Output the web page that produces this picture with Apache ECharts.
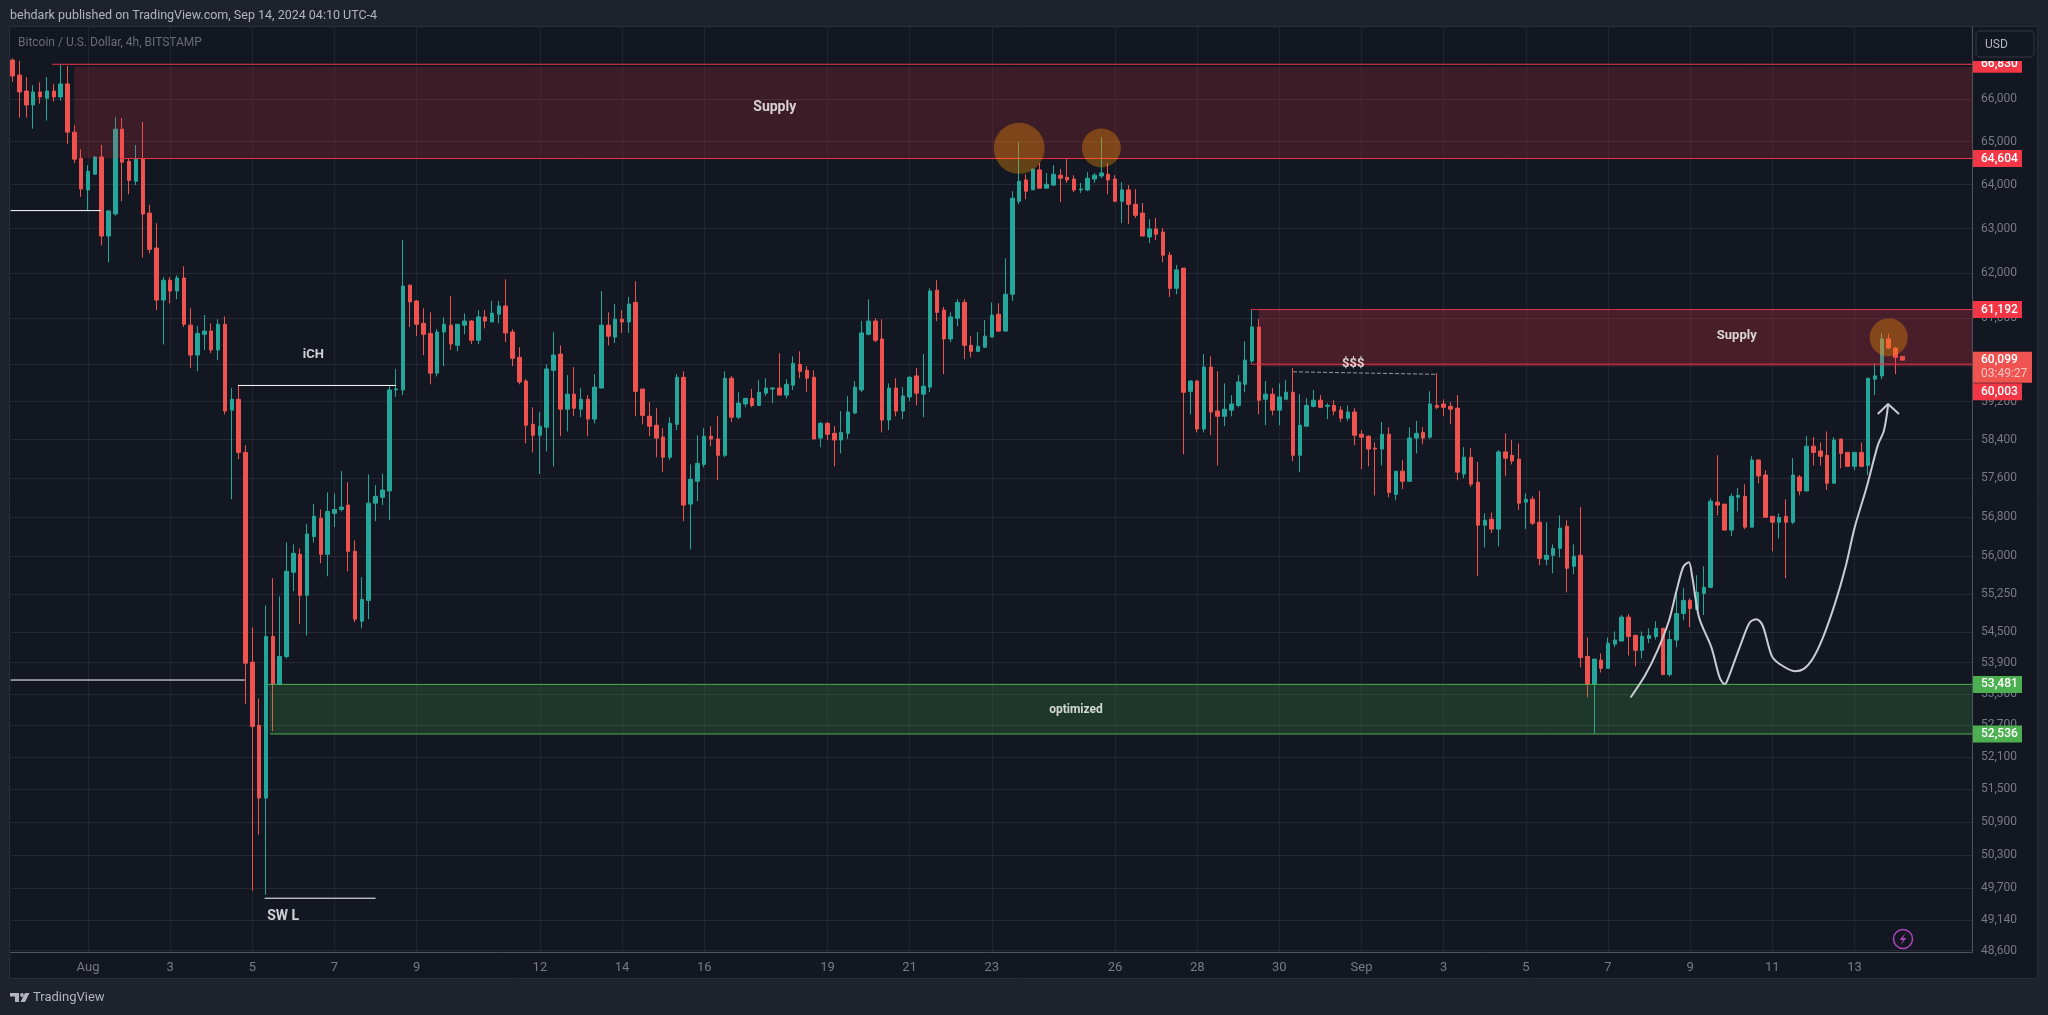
<!DOCTYPE html>
<html>
<head>
<meta charset="utf-8">
<style>html,body{margin:0;padding:0;background:#1e222d}#main{width:2048px;height:1015px}</style>
<script src="https://cdn.jsdelivr.net/npm/echarts@6/dist/echarts.min.js"></script>
</head>
<body>
<div id="main"></div>
<script>
// 4h candles
var opens = [
66930,66570,66190,65860,66170,66020,66190,66050,66360,65220,
64610,63880,64240,64640,62830,63330,65290,64540,64080,64600,
63350,62560,61400,61840,61600,61890,60850,60200,60650,60720,
60310,60870,59020,59250,58130,53910,52700,51340,54410,53480,
54020,55680,56040,55220,56400,56770,56040,56870,56950,57040,
56100,54710,55120,57080,57200,57330,59450,59450,61730,61380,
60890,60670,59810,60700,60850,60410,60850,60940,60520,61030,
60920,61090,61270,60700,60150,59640,58720,58490,58660,59870,
60220,59040,59360,59040,59250,58830,59490,60850,60590,60980,
60920,61350,59470,58890,58700,58450,58030,58720,59720,57060,
57530,57880,58470,58410,58070,59700,58870,59150,59270,59120,
59380,59470,59490,59340,59550,60000,59870,59720,58430,58740,
58530,58390,58530,58960,59450,60650,60940,60550,58810,59490,
59000,59300,59750,59360,59510,61620,61180,60550,61000,61350,
60410,60280,60370,60590,61090,60720,61530,63620,64110,63880,
64340,63920,63990,64220,64170,64130,63880,63880,64130,64200,
64240,64130,63620,63880,63550,63350,62810,62990,62920,62400,
61660,62110,59420,59640,58620,59940,59000,58890,59020,59120,
59570,60070,60810,59250,59360,59020,59250,59400,58070,58680,
59100,59230,59100,59120,59020,58850,58980,58510,58470,58220,
58200,58510,57260,57740,57530,58430,58550,58450,59120,59150,
59100,59060,57680,58030,57510,56630,56750,56550,58140,58070,
57990,57100,57160,56690,55940,56020,56160,56610,55800,56020,
54020,53480,53950,53790,54260,54320,54790,54430,54140,54370,
54410,54570,53670,54340,54860,55120,54940,55260,55380,57100,
57060,56530,57200,57220,56590,57970,57660,56810,56690,56810,
56690,57620,57330,58260,58160,58070,57490,58410,58130,57840,
58130,57860,59680,59750,60550,60350,60170];
var closes = [
66550,66170,65860,66170,66050,66190,66050,66360,65220,64590,
63900,64310,64640,62830,63400,65290,64520,64100,64590,63330,
62530,61400,61840,61600,61890,60870,60200,60670,60720,60310,
60870,59000,59250,58130,53890,52680,51340,54410,53480,54020,
55700,56060,55220,56450,56810,56040,56910,56950,57000,56100,
54750,55140,57080,57220,57350,59450,59470,61710,61360,60870,
60650,59810,60700,60870,60440,60870,60940,60520,61030,60940,
61110,61270,60680,60130,59620,58700,58490,58680,59900,60200,
59040,59360,59060,59250,58830,59510,60850,60610,60980,60920,
61310,59420,58910,58680,58430,58030,58740,59720,57040,57570,
57900,58470,58410,58070,59700,58870,59170,59270,59120,59400,
59490,59490,59340,59570,60020,59850,59700,58410,58740,58510,
58390,58550,58980,59510,60680,60940,60520,58810,59490,59000,
59320,59720,59380,59530,61600,61130,60550,61030,61350,60410,
60280,60390,60610,61070,60720,61530,63690,64080,63850,64360,
63920,64010,64240,64150,64110,63880,63900,64150,64220,64270,
64110,63620,63880,63550,63300,62830,62990,62870,62400,61660,
62070,59400,59640,58620,59940,58980,58890,59040,59150,59620,
60090,60810,59230,59360,59020,59300,59400,58070,58700,59120,
59230,59080,59120,59000,58850,58980,58490,58450,58200,58200,
58510,57300,57740,57530,58430,58530,58430,59150,59080,59080,
59040,57720,58030,57470,56630,56730,56550,58140,58010,57950,
57080,57160,56670,55960,56020,56160,56570,55760,56000,54000,
53480,53970,53790,54280,54340,54790,54410,54140,54410,54430,
54570,53670,54350,54860,55120,54960,55280,55380,57120,57040,
56530,57220,57240,56590,57970,57640,56790,56690,56790,56690,
57660,57330,58260,58130,58050,57490,58390,58110,57840,58130,
57840,59700,59750,60550,60350,60150,60090];
var lows = [
66410,65560,65560,65300,65890,65490,65940,65960,64940,64500,
63720,63400,64240,62620,62240,63290,63620,63780,63990,62350,
62440,61180,60430,61330,61420,60810,59920,59850,60310,60240,
60090,58930,57160,57990,53100,49660,50670,49590,52590,53480,
53980,55300,54650,54430,56280,55860,55600,56590,56910,55700,
54690,54570,54750,56710,57040,56730,59300,59340,60810,60610,
60200,59570,59740,59960,60310,60280,60650,60440,60440,60780,
60920,60890,60480,59960,59570,58320,58130,57680,58150,57840,
58470,58570,58890,58870,58470,58740,59490,60410,60460,60680,
60680,58890,58720,58470,58030,57720,57970,58600,56710,56140,
57120,57820,58260,57550,58030,58770,58830,59080,59080,59120,
59320,59170,59340,59270,59450,59700,59400,58410,58240,58390,
57840,58110,58410,58930,59400,60630,60480,58550,58600,58890,
58830,59210,59120,58870,59400,60940,59790,60480,60830,60110,
60150,60280,60350,60590,60700,60720,61380,63550,63670,63880,
63920,63920,63970,63600,64040,63830,63810,63850,64040,64150,
63780,63600,63120,63100,63240,62830,62670,62740,62240,61470,
61530,58090,58930,58550,58550,58490,57860,58680,58890,59080,
59400,60020,58930,58700,58910,58700,59250,57950,57720,58680,
59080,59060,58830,58910,58770,58790,58280,57780,57840,57240,
57860,57200,57140,57370,57530,58110,58300,58410,59040,58890,
58720,57550,57590,57410,55600,56180,56470,56200,57640,57880,
56940,56550,56630,55820,55820,55660,55980,55280,55640,53810,
53230,52550,53710,53790,54200,54320,54040,53830,53980,54280,
54350,53670,53630,54200,54730,54590,54940,54830,55360,56830,
56530,56410,56910,56550,56590,57490,56790,56100,56360,55560,
56650,57240,57330,57860,57860,57350,57490,57800,57840,57760,
57820,57660,59340,59680,60330,59790,60090];
var highs = [
66970,66910,66520,66330,66400,66520,66360,66810,66790,65380,
64820,64450,64660,64920,63400,65570,65550,64610,64920,65460,
63540,63120,61910,61910,61950,62150,61220,60830,61070,60890,
60980,61040,59490,59550,58280,54590,53210,55020,55560,55200,
56280,56240,56160,56650,57060,56950,57300,57280,57740,57510,
56320,55580,57670,57450,57690,59530,59900,62740,61750,61400,
61220,61130,60760,61020,61490,60870,61110,60960,61180,61180,
61380,61380,61860,60760,60370,59680,59080,58980,60000,60700,
60410,59770,59940,59490,59340,59790,61600,61130,61310,61180,
61470,61820,59470,59190,59060,58640,58870,59790,59850,57880,
58490,58640,58680,58890,59850,59750,59400,59270,59470,59660,
59700,59510,60240,59680,60170,60280,59960,59870,58770,58770,
58680,59000,59320,59640,60940,61420,61000,60980,59590,59700,
59510,59750,59920,60220,61660,61840,61250,61130,61420,61420,
60610,60700,60960,61350,61330,62330,63850,64990,64240,64360,
64500,64270,64450,64360,64590,64220,64040,64290,64270,65100,
64500,64220,64060,63990,63900,63580,63210,63240,63010,62470,
62180,62110,59660,59660,60220,60170,59850,59590,59340,59770,
60500,61180,60980,59640,59490,59590,59660,59920,59360,59270,
59450,59340,59170,59230,59100,59120,59060,58600,58490,58340,
58770,58660,57740,57970,58660,58790,58660,59420,59810,59250,
59190,59340,58240,58220,57930,56870,56890,58180,58530,58390,
58320,57280,57220,57330,56690,56240,56830,56730,56240,57000,
54390,53970,54080,54390,54510,54830,54850,54450,54510,54570,
54710,54570,54530,55360,55360,55160,55620,55800,57180,58070,
57060,57280,57390,57470,58050,57990,57760,56810,56870,57160,
58010,57660,58470,58450,58340,58570,58450,58410,58130,58130,
58340,59700,60020,60680,60660,60370,60170];

// axis ticks
var priceTicks = [66000,65000,64000,63000,62000,61000,60000,59200,58400,57600,56800,56000,55250,54500,53900,53300,52700,52100,51500,50900,50300,49700,49140,48600];
var dateTicks = [11,23,35,47,59,77,89,101,119,131,143,161,173,185,197,209,221,233,245,257,269];
var dateLabels = ['Aug','3','5','7','9','12','14','16','19','21','23','26','28','30','Sep','3','5','7','9','11','13'];

// drawings, in bar index and price
var supplyTopZone = [[9, 66763], [286.2, 64604]];
var supplyLowZone = [[182, 61192], [286.2, 59950]];
var demandZone = [[37.5, 53481], [286.2, 52536]];
var supplyTopLines = [[[5.8, 66830], [286.2, 66830]], [[15.8, 64604], [286.2, 64604]]];
var supplyLowLines = [[[180.8, 61192], [286.2, 61192]], [[180.8, 60003], [286.2, 60003]]];
var demandLines = [[[37.2, 53481], [286.2, 53481]], [[37.6, 52536], [286.2, 52536]]];
var whiteLines = [[[-0.3, 63407], [12.9, 63407]], [[32.9, 59546], [56, 59546]], [[-0.3, 53565], [33.9, 53565]], [[36.8, 49526], [53, 49526]]];
var dashedLine = [[187, 59838], [208, 59785]];
var sketchCurve = [[236.3,53230],[238.4,53650],[240.2,54130],[241.9,54717],[243,55310],[244,55790],[244.8,55880],[245.3,55590],[246.3,54780],[248.1,54196],[249.3,53615],[250,53490],[250.4,53550],[252.4,54262],[253.7,54685],[254.7,54750],[255.6,54620],[256.9,54035],[258,53880],[260.3,53735],[261.6,53780],[262.9,53975],[264.4,54390],[266.2,55080],[267.7,55790],[269,56570],[270.8,57422],[272.4,58277],[273.3,58590],[273.9,59116]];
var sketchArrow = [[272.4,58940],[273.9,59150],[275.5,58940]];
var circleMarks = [[147,64841,51],[159,64850,39],[274,60583,38]];
var noteTexts = [[111.3,65806,'Supply',14],[251.8,60620,'Supply',13],[43.9,60210,'iCH',13],[39.5,49210,'SW L',14],[195.8,60010,'$$$',13],[155.3,53000,'optimized',12]];
var priceTags = [[66830,'#f23645'],[64604,'#f23645'],[61192,'#f23645'],[53481,'#4caf50'],[52536,'#4caf50']];
var lastPrice = 60099;
var lastTimer = '03:49:27';
var zoneLowPrice = 60003;

var candleData = [];
for (var i = 0; i < opens.length; i++) {
    candleData.push([i, opens[i], closes[i], lows[i], highs[i]]);
}

var fontName = 'Roboto';

function segSeries(data, color, width, type, z) {
    return {
        type: 'line', data: data, showSymbol: false, silent: true, z: z,
        lineStyle: { color: color, width: width, type: type || 'solid' }
    };
}

function zoneSeries(zone, fill) {
    return {
        type: 'line', data: [], silent: true, z: 3,
        markArea: {
            silent: true, z: 3,
            itemStyle: { color: fill },
            data: [[{ coord: zone[0] }, { coord: zone[1] }]]
        }
    };
}

var series = [{
    type: 'candlestick',
    z: 2,
    barWidth: 4,
    encode: { x: 0, y: [1, 2, 3, 4] },
    data: candleData,
    itemStyle: {
        color: '#26a69a', color0: '#ef5350',
        borderColor: '#26a69a', borderColor0: '#ef5350',
        borderColorDoji: '#26a69a', borderWidth: 1
    }
}];
series.push(zoneSeries(supplyTopZone, 'rgba(242,54,69,0.18)'));
series.push(zoneSeries(supplyLowZone, 'rgba(242,54,69,0.235)'));
series.push(zoneSeries(demandZone, 'rgba(76,175,80,0.21)'));
supplyTopLines.forEach(function (l) { series.push(segSeries(l, '#f23645', 1, null, 4)); });
supplyLowLines.forEach(function (l) { series.push(segSeries(l, '#e0344a', 1, null, 4)); });
demandLines.forEach(function (l) { series.push(segSeries(l, '#4caf50', 1, null, 4)); });
whiteLines.forEach(function (l) { series.push(segSeries(l, '#ffffff', 1, null, 4)); });
series.push(segSeries(dashedLine, '#9598a1', 1, 'dashed', 4));
var curve = segSeries(sketchCurve, '#c9ccd4', 2, null, 5);
curve.smooth = 0.3;
series.push(curve);
series.push(segSeries(sketchArrow, '#c9ccd4', 2, null, 5));
series.push({
    type: 'scatter', silent: true, z: 6,
    data: circleMarks.map(function (c) { return { value: [c[0], c[1]], symbolSize: c[2] }; }),
    itemStyle: { color: 'rgba(255,152,0,0.42)' }
});
series.push({
    type: 'scatter', silent: true, z: 7, symbolSize: 1,
    itemStyle: { color: 'transparent' },
    data: noteTexts.map(function (n) {
        return {
            value: [n[0], n[1]],
            label: {
                show: true, position: 'inside', formatter: n[2], color: '#ffffff',
                fontFamily: fontName, fontWeight: 'bold', fontSize: n[3]
            }
        };
    })
});

var chart = echarts.init(document.getElementById('main'));
var option = {
    animation: false,
    backgroundColor: '#1e222d',
    grid: { left: 10.5, right: 76, top: 27, bottom: 63 },
    xAxis: {
        type: 'value', min: -0.317, max: 286.16,
        axisLine: { show: true, onZero: false, lineStyle: { color: '#50535e' } },
        axisTick: { show: false, customValues: dateTicks },
        axisLabel: {
            customValues: dateTicks, color: '#787b86', fontFamily: fontName, fontSize: 13, margin: 9,
            formatter: function (v) { return dateLabels[dateTicks.indexOf(v)]; }
        },
        splitLine: { show: true, lineStyle: { color: '#20242e' } }
    },
    yAxis: {
        type: 'log', position: 'right', min: 48578, max: 67731,
        axisLine: { show: true, onZero: false, lineStyle: { color: '#50535e' } },
        axisTick: { show: false, customValues: priceTicks },
        axisLabel: {
            customValues: priceTicks, color: '#787b86', fontFamily: fontName, fontSize: 12, margin: 9,
            padding: [0, 0, 2, 0],
            formatter: function (v) { return Math.round(v).toLocaleString('en-US'); }
        },
        splitLine: { show: true, lineStyle: { color: '#252934' } }
    },
    series: series
};
chart.setOption(option);

// frame, header and price tags sit on top of the scales
function tag(y, h, w, fill, text, z) {
    return [
        { type: 'rect', silent: true, z: z, shape: { x: 1973, y: y - h / 2, width: w, height: h }, style: { fill: fill } },
        { type: 'text', silent: true, z: z + 1, style: { x: 1981, y: y, text: text, fill: '#ffffff', font: '500 12px ' + fontName, textVerticalAlign: 'middle' } }
    ];
}

var els = [
    { type: 'rect', silent: true, z: -10, shape: { x: 9.5, y: 26.5, width: 2028, height: 952 }, style: { fill: '#131722', stroke: '#2a2e39', lineWidth: 1 } },
    { type: 'text', silent: true, z: 20, style: { x: 10, y: 15.5, text: 'behdark published on TradingView.com, Sep 14, 2024 04:10 UTC-4', fill: '#b2b5be', font: '12.5px ' + fontName, textVerticalAlign: 'middle' } },
    { type: 'text', silent: true, z: 20, style: { x: 18, y: 42.5, text: 'Bitcoin / U.S. Dollar, 4h, BITSTAMP', fill: '#6a6d78', font: '12px ' + fontName, textVerticalAlign: 'middle' } },
    { type: 'text', silent: true, z: 20, style: { x: 33, y: 998, text: 'TradingView', fill: '#b2b5be', font: '13px ' + fontName, textVerticalAlign: 'middle' } },
    { type: 'polygon', silent: true, z: 20, shape: { points: [[10, 993], [19, 993], [19, 1002], [15, 1002], [15, 996.5], [10, 996.5]] }, style: { fill: '#b2b5be' } },
    { type: 'circle', silent: true, z: 20, shape: { cx: 22, cy: 995, r: 1.9 }, style: { fill: '#b2b5be' } },
    { type: 'polygon', silent: true, z: 20, shape: { points: [[25, 993], [29.5, 993], [25, 1002], [20.5, 1002]] }, style: { fill: '#b2b5be' } },
    { type: 'circle', silent: true, z: 20, shape: { cx: 1903, cy: 939, r: 9.5 }, style: { fill: 'none', stroke: '#ab47bc', lineWidth: 1.5 } },
    { type: 'polygon', silent: true, z: 20, shape: { points: [[1905.5, 933], [1899.5, 940], [1903, 940], [1900.5, 945], [1906.5, 938], [1903, 938]] }, style: { fill: '#ab47bc' } }
];

priceTags.forEach(function (t) {
    var y = chart.convertToPixel({ yAxisIndex: 0 }, t[0]);
    els = els.concat(tag(y, 17, 49, t[1], t[0].toLocaleString('en-US'), 30));
});
// the zone edge tag gets pushed down by the last price tag
var lastY = chart.convertToPixel({ yAxisIndex: 0 }, lastPrice);
els = els.concat(tag(lastY + 32, 17, 49, '#f23645', zoneLowPrice.toLocaleString('en-US'), 30));
els.push({ type: 'rect', silent: true, z: 32, shape: { x: 1973, y: lastY - 8, width: 59, height: 31 }, style: { fill: '#ef5350' } });
els.push({ type: 'text', silent: true, z: 33, style: { x: 1981, y: lastY, text: lastPrice.toLocaleString('en-US'), fill: '#ffffff', font: '500 12px ' + fontName, textVerticalAlign: 'middle' } });
els.push({ type: 'text', silent: true, z: 33, style: { x: 1981, y: lastY + 14, text: lastTimer, fill: 'rgba(255,255,255,0.65)', font: '12px ' + fontName, textVerticalAlign: 'middle' } });
// USD button covers the top of the scale
els.push({ type: 'rect', silent: true, z: 40, shape: { x: 1973, y: 27, width: 64, height: 34 }, style: { fill: '#131722' } });
els.push({ type: 'rect', silent: true, z: 41, shape: { x: 1976, y: 31, width: 58, height: 26, r: 4 }, style: { fill: '#131722', stroke: '#2a2e39', lineWidth: 1.5 } });
els.push({ type: 'text', silent: true, z: 42, style: { x: 1985, y: 44.5, text: 'USD', fill: '#b2b5be', font: '12px ' + fontName, textVerticalAlign: 'middle' } });

chart.setOption({ graphic: { elements: els } });
</script>
</body>
</html>
